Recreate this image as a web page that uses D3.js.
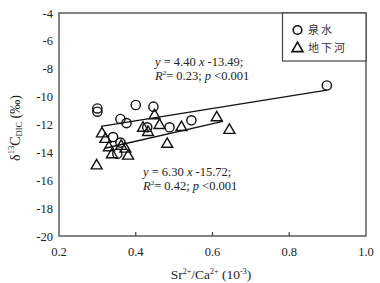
<!DOCTYPE html>
<html>
<head>
<meta charset="utf-8">
<script src="https://cdn.jsdelivr.net/npm/d3@7"></script>
<style>
  body { margin: 0; background: #fff; }
  svg text { font-family: "Liberation Serif", "Times New Roman", serif; fill: #222; }
</style>
</head>
<body>
<div id="chart"></div>
<script>
// spring water points (Sr/Ca, d13C)
var springX = [0.30, 0.30, 0.36, 0.376, 0.40, 0.446, 0.341, 0.36, 0.352, 0.43, 0.488, 0.545, 0.898];
var springY = [-10.85, -11.08, -11.6, -11.9, -10.6, -10.72, -12.9, -13.3, -14.1, -12.2, -12.2, -11.7, -9.2];

// underground river points
var riverX = [0.298, 0.312, 0.321, 0.33, 0.338, 0.362, 0.373, 0.38, 0.419, 0.432, 0.449, 0.462, 0.482, 0.519, 0.611, 0.644];
var riverY = [-14.9, -12.6, -13.0, -13.6, -14.1, -13.5, -13.7, -14.2, -12.2, -12.5, -11.3, -12.0, -13.35, -12.15, -11.45, -12.35];

// fitted lines
var fitSlope = [4.40, 6.30];
var fitIntercept = [-13.49, -15.72];
var fitFrom = [0.309, 0.32];
var fitTo = [0.898, 0.627];

var xTicks = [0.2, 0.4, 0.6, 0.8, 1.0];
var yTicks = [-4, -6, -8, -10, -12, -14, -16, -18, -20];
var legendLabels = ["泉水", "地下河"];

var width = 380, height = 283;

var svg = d3.select('#chart').append('svg')
  .attr('width', width)
  .attr('height', height);

var x = d3.scaleLinear().domain([0.2, 1.0]).range([59, 366]);
var y = d3.scaleLinear().domain([-20, -4]).range([236, 13]);

// frame
svg.append('rect')
  .attr('x', x(0.2)).attr('y', y(-4))
  .attr('width', x(1.0) - x(0.2)).attr('height', y(-20) - y(-4))
  .attr('fill', 'none').attr('stroke', '#444').attr('stroke-width', 1.3);

// x ticks (inner) and labels
svg.selectAll('.xt').data(xTicks.slice(1, -1)).enter().append('line')
  .attr('x1', function(d) { return x(d); }).attr('x2', function(d) { return x(d); })
  .attr('y1', y(-20)).attr('y2', y(-20) - 4)
  .attr('stroke', '#444').attr('stroke-width', 1.2);

svg.selectAll('.xl').data(xTicks).enter().append('text')
  .attr('x', function(d) { return x(d); })
  .attr('y', 256)
  .attr('text-anchor', 'middle')
  .attr('font-size', 12.5)
  .text(function(d) { return d3.format('.1f')(d); });

svg.selectAll('.yl').data(yTicks).enter().append('text')
  .attr('x', 53)
  .attr('y', function(d) { return y(d) + 4.5; })
  .attr('text-anchor', 'end')
  .attr('font-size', 12.5)
  .text(function(d) { return d; });

// axis titles
var xt = svg.append('text')
  .attr('x', 211).attr('y', 279)
  .attr('text-anchor', 'middle')
  .attr('font-size', 13.5);
xt.append('tspan').text('Sr');
xt.append('tspan').attr('font-size', 8).attr('dy', -5).text('2+');
xt.append('tspan').attr('dy', 5).text('/Ca');
xt.append('tspan').attr('font-size', 8).attr('dy', -5).text('2+');
xt.append('tspan').attr('dy', 5).text(' (10');
xt.append('tspan').attr('font-size', 8).attr('dy', -5).text('-3');
xt.append('tspan').attr('dy', 5).text(')');

var yt = svg.append('text')
  .attr('transform', 'translate(20,128) rotate(-90)')
  .attr('text-anchor', 'middle')
  .attr('font-size', 14);
yt.append('tspan').text('δ');
yt.append('tspan').attr('font-size', 8.5).attr('dy', -6).text('13');
yt.append('tspan').attr('dy', 6).text('C');
yt.append('tspan').attr('font-size', 8.5).attr('dy', 2).text('DIC');
yt.append('tspan').attr('dy', -2).text(' (‰)');

// regression lines
fitSlope.forEach(function(s, i) {
  svg.append('line')
    .attr('x1', x(fitFrom[i])).attr('y1', y(s * fitFrom[i] + fitIntercept[i]))
    .attr('x2', x(fitTo[i])).attr('y2', y(s * fitTo[i] + fitIntercept[i]))
    .attr('stroke', '#111').attr('stroke-width', 1.3);
});

// points
var spring = springX.map(function(v, i) { return [v, springY[i]]; });
var river = riverX.map(function(v, i) { return [v, riverY[i]]; });

svg.selectAll('.sp').data(spring).enter().append('circle')
  .attr('cx', function(d) { return x(d[0]); })
  .attr('cy', function(d) { return y(d[1]); })
  .attr('r', 4.6)
  .attr('fill', 'none').attr('stroke', '#111').attr('stroke-width', 1.4);

var tri = d3.symbol().type(d3.symbolTriangle).size(52);
svg.selectAll('.rv').data(river).enter().append('path')
  .attr('d', tri)
  .attr('transform', function(d) { return 'translate(' + x(d[0]) + ',' + (y(d[1]) + 0.8) + ')'; })
  .attr('fill', 'none').attr('stroke', '#111').attr('stroke-width', 1.4);

// equations
function equation(ex, ey, slope, icpt, r2) {
  var t1 = svg.append('text').attr('x', ex).attr('y', ey).attr('font-size', 12.5);
  t1.append('tspan').attr('font-style', 'italic').text('y');
  t1.append('tspan').text(' = ' + slope + ' ');
  t1.append('tspan').attr('font-style', 'italic').text('x');
  t1.append('tspan').text(' -' + icpt + ';');
  var t2 = svg.append('text').attr('x', ex).attr('y', ey + 14).attr('font-size', 12.5);
  t2.append('tspan').attr('font-style', 'italic').text('R');
  t2.append('tspan').attr('font-size', 7).attr('dy', -5).text('2');
  t2.append('tspan').attr('dy', 5).text('= ' + r2 + '; ');
  t2.append('tspan').attr('font-style', 'italic').text('p');
  t2.append('tspan').text(' <0.001');
}
equation(155, 66, '4.40', '13.49', '0.23');
equation(143, 176, '6.30', '15.72', '0.42');

// legend
var lg = svg.append('g');
lg.append('rect')
  .attr('x', 282.5).attr('y', y(-4))
  .attr('width', x(1.0) - 282.5).attr('height', 48)
  .attr('fill', '#fff').attr('stroke', '#444').attr('stroke-width', 1.2);
lg.append('circle').attr('cx', 297.5).attr('cy', 30).attr('r', 4.3)
  .attr('fill', 'none').attr('stroke', '#111').attr('stroke-width', 1.6);
lg.append('path').attr('d', tri).attr('transform', 'translate(297.5,48.5)')
  .attr('fill', 'none').attr('stroke', '#111').attr('stroke-width', 1.6);
legendLabels.forEach(function(l, i) {
  lg.append('text')
    .attr('x', 308).attr('y', 34 + i * 18)
    .attr('font-size', 11)
    .attr('letter-spacing', 2)
    .style('font-family', '"Noto Sans CJK SC", sans-serif')
    .style('fill', '#333')
    .text(l);
});
</script>
</body>
</html>
